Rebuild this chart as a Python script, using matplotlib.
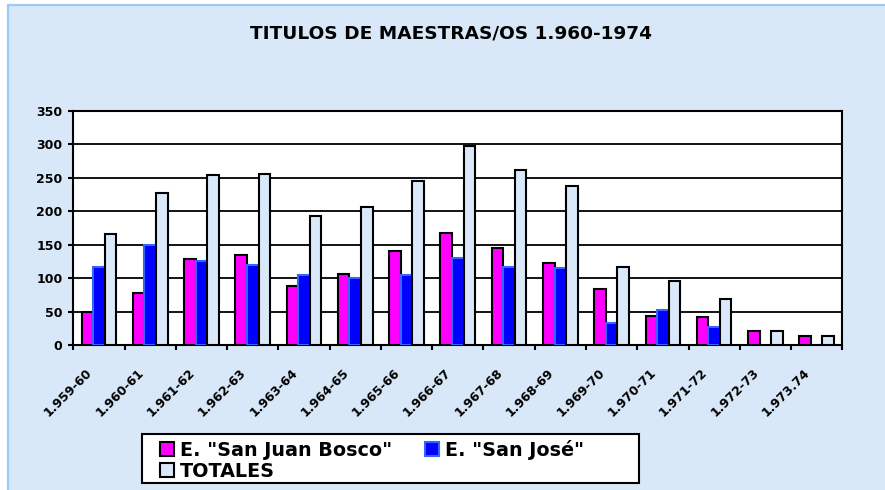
import numpy as np
import matplotlib
matplotlib.use("Agg")
import matplotlib.pyplot as plt
from matplotlib.patches import Rectangle, Patch
from matplotlib.transforms import ScaledTranslation

plt.rcParams['font.family'] = ['DejaVu Sans']
plt.rcParams['font.weight'] = 'bold'

# data
cursos = ["1.959-60", "1.960-61", "1.961-62", "1.962-63", "1.963-64",
          "1.964-65", "1.965-66", "1.966-67", "1.967-68", "1.968-69",
          "1.969-70", "1.970-71", "1.971-72", "1.972-73", "1.973.74"]
san_juan_bosco = [49, 78, 129, 135, 88, 106, 140, 167, 145, 123, 83, 43, 42, 21, 14]
san_jose = [117, 149, 125, 120, 104, 100, 105, 130, 116, 115, 33, 53, 27, 0, 0]
totales = [166, 227, 254, 255, 192, 206, 245, 297, 261, 238, 116, 96, 69, 21, 14]

W, H = 885, 490
fig = plt.figure(figsize=(W / 100, H / 100), dpi=100, facecolor="white")

# chart area background with light blue border (left/top visible)
bg = Rectangle((8 / W, -0.1), 1.5, 1 - 5.5 / H + 0.1, transform=fig.transFigure,
               facecolor="#D9E8F8", edgecolor="#9DC9F7", lw=1.6, zorder=-10)
fig.patches.append(bg)

left, right, top, bottom = 73.3, 842.3, 110.7, 345
ax = fig.add_axes([left / W, 1 - bottom / H, (right - left) / W, (bottom - top) / H])
ax.set_facecolor("white")

x = np.arange(len(cursos))
w = 0.225
# empty bars are not drawn at all (no edge line at zero)
sj_plot = [v if v > 0 else np.nan for v in san_jose]
ax.bar(x - w, san_juan_bosco, w, color="#FF00FF", edgecolor="black", lw=1.5, zorder=3)
ax.bar(x, sj_plot, w, color="#0000FF", edgecolor="#3366FF", lw=1.5, zorder=3)
ax.bar(x + w, totales, w, color="#DAE9FA", edgecolor="black", lw=1.5, zorder=3)

ax.set_xlim(-0.5, len(cursos) - 0.5)
ax.set_ylim(0, 350)
ax.set_yticks(range(0, 351, 50))
ax.yaxis.grid(True, color="black", lw=1.3)
ax.set_axisbelow(True)
for s in ax.spines.values():
    s.set_linewidth(1.5)

ax.set_xticks(np.arange(len(cursos) + 1) - 0.5)
ax.set_xticklabels([])
ax.set_xticks(x, minor=True)
ax.set_xticklabels(cursos, minor=True, rotation=45, ha="right", va="top",
                   fontsize=9, fontweight="bold")
ax.tick_params(axis="x", which="major", direction="out", length=3.6, width=1.5)
ax.tick_params(axis="x", which="minor", length=0, pad=15)
ax.tick_params(axis="y", direction="out", length=3.6, width=1.5, pad=4.3, labelsize=9)
off = ScaledTranslation(-4 / 100, 0, fig.dpi_scale_trans)
for lab in ax.get_xticklabels(minor=True):
    lab.set_transform(lab.get_transform() + off)

fig.text(451.5 / W, 1 - 33 / H, "TITULOS DE MAESTRAS/OS 1.960-1974",
         ha="center", va="center", fontsize=13.3, fontweight="bold")

# legend box
fig.patches.append(Rectangle((142 / W, 1 - 483 / H), 497 / W, 49 / H,
                             transform=fig.transFigure, facecolor="white",
                             edgecolor="black", lw=1.5, zorder=2))
h1 = Patch(facecolor="#FF00FF", edgecolor="black", lw=1.5)
h2 = Patch(facecolor="#0000FF", edgecolor="#3366FF", lw=1.5)
h3 = Patch(facecolor="#DAE9FA", edgecolor="black", lw=1.5)
fig.legend([h1, h3, h2], ['E. "San Juan Bosco"', "TOTALES", 'E. "San José"'],
           ncol=2, loc="upper left", bbox_to_anchor=(160 / W, 1 - 440 / H),
           frameon=False, borderpad=0, borderaxespad=0,
           prop={"size": 13.8, "weight": "bold"},
           handlelength=0.73, handleheight=0.73, handletextpad=0.31,
           columnspacing=1.72, labelspacing=0.1)

fig.savefig("out.png", dpi=100, facecolor="white")
